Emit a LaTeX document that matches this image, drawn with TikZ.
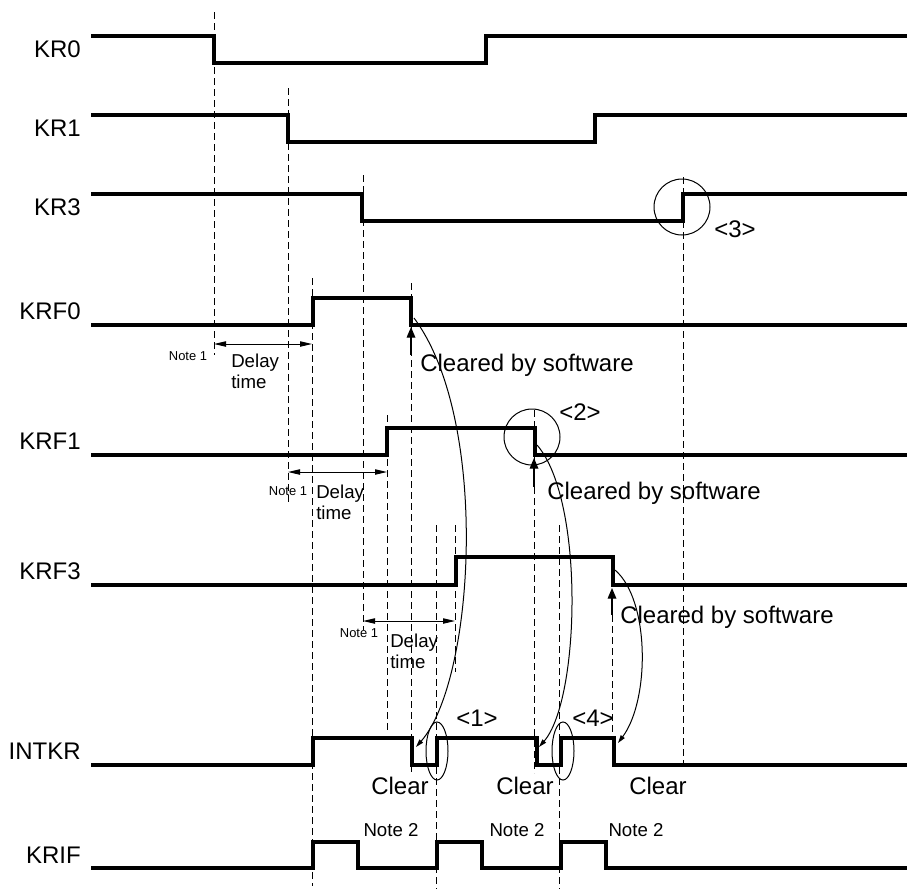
\documentclass[tikz,border=0pt]{standalone}
\usepackage{fontspec}
\setmainfont{Liberation Sans}
\usetikzlibrary{arrows.meta}
\tikzset{
    wave/.style={line width=3pt, line join=miter},
    guide/.style={line width=0.75pt, dash pattern=on 5.25pt off 3pt},
    siglabel/.style={anchor=east, inner sep=0pt, font=\fontsize{18}{20}\selectfont},
    bigtext/.style={inner sep=0pt, font=\fontsize{18}{20}\selectfont},
    midtext/.style={inner sep=0pt, align=left, font=\fontsize{14}{16}\selectfont},
    smalltext/.style={inner sep=0pt, font=\fontsize{9.7}{11}\selectfont},
    ring/.style={draw, line width=0.75pt},
    delayarrow/.style={{Triangle[length=9pt,width=4pt]}-{Triangle[length=9pt,width=4pt]}, line width=0.75pt},
    swarrow/.style={-{Triangle[length=8pt,width=6.5pt]}, line width=0.9pt},
    bendarrow/.style={-{Triangle[length=6pt,width=3.5pt]}, line width=0.75pt}
}

\begin{document}
\begin{tikzpicture}[x=0.75pt, y=-0.75pt]
    \useasboundingbox (0,0) rectangle (907,889);

    % signal names
    \node[siglabel] (lkr0) at (81,49.5) {KR0};
    \node[siglabel] (lkr1) at (81,128.5) {KR1};
    \node[siglabel] (lkr3) at (81,207.5) {KR3};
    \node[siglabel] (lkrf0) at (81,311.5) {KRF0};
    \node[siglabel] (lkrf1) at (81,441.5) {KRF1};
    \node[siglabel] (lkrf3) at (81,571) {KRF3};
    \node[siglabel] (lintkr) at (81,751.5) {INTKR};
    \node[siglabel] (lkrif) at (81,855) {KRIF};

    % guide lines
    \foreach \gx/\gtop/\gbot in {214/12/355, 288/88/505, 363/175/630, 683/177/770,
                                 312/278/886, 411/283/772, 387/415/733, 534/410/773,
                                 436/525/889, 559/525/889, 455/525/672, 612/615/738}
        \draw[guide] (\gx,\gtop) -- (\gx,\gbot);

    % waveforms
    \draw[wave] (91,36) -- (214,36) -- (214,63) -- (486,63) -- (486,36) -- (907,36);
    \draw[wave] (91,115) -- (288,115) -- (288,142) -- (595,142) -- (595,115) -- (907,115);
    \draw[wave] (91,194) -- (362,194) -- (362,221) -- (683,221) -- (683,194) -- (907,194);
    \draw[wave] (91,325) -- (313,325) -- (313,298) -- (411,298) -- (411,325) -- (907,325);
    \draw[wave] (91,455) -- (387,455) -- (387,428) -- (535,428) -- (535,455) -- (907,455);
    \draw[wave] (91,585) -- (456,585) -- (456,557) -- (613,557) -- (613,585) -- (907,585);
    \draw[wave] (91,765) -- (313,765) -- (313,738) -- (412,738) -- (412,765) -- (437,765)
        -- (437,738) -- (537,738) -- (537,765) -- (561,765) -- (561,738) -- (614,738)
        -- (614,765) -- (907,765);
    \draw[wave] (91,868) -- (313,868) -- (313,842) -- (358,842) -- (358,868) -- (437,868)
        -- (437,842) -- (482,842) -- (482,868) -- (561,868) -- (561,842) -- (606,842)
        -- (606,868) -- (907,868);

    % delay times
    \coordinate (d0a) at (214,344);
    \coordinate (d0b) at (312,344);
    \coordinate (d1a) at (288,472);
    \coordinate (d1b) at (387,472);
    \coordinate (d3a) at (363,621);
    \coordinate (d3b) at (455,621);
    \draw[delayarrow] (d0a) -- (d0b);
    \draw[delayarrow] (d1a) -- (d1b);
    \draw[delayarrow] (d3a) -- (d3b);
    \node[smalltext] (n10) at (188,356) {Note 1};
    \node[smalltext] (n11) at (288,491) {Note 1};
    \node[smalltext] (n13) at (359,633) {Note 1};
    \node[midtext, anchor=west] (dt0) at (231,371) {Delay\\time};
    \node[midtext, anchor=west] (dt1) at (316,502) {Delay\\time};
    \node[midtext, anchor=west] (dt3) at (390,651) {Delay\\time};

    % cleared by software
    \coordinate (cs0) at (411,355);
    \coordinate (cf0) at (411,327);
    \coordinate (cs1) at (534,487);
    \coordinate (cf1) at (534,458);
    \coordinate (cs3) at (612,615);
    \coordinate (cf3) at (612,588);
    \draw[swarrow] (cs0) -- (cf0);
    \draw[swarrow] (cs1) -- (cf1);
    \draw[swarrow] (cs3) -- (cf3);
    \node[bigtext, anchor=west] (cbs0) at (420,365) {Cleared by software};
    \node[bigtext, anchor=west] (cbs1) at (547,493) {Cleared by software};
    \node[bigtext, anchor=west] (cbs3) at (620,617) {Cleared by software};

    % flag clear -> interrupt clear
    \coordinate (fk0) at (414,318);
    \coordinate (fk1) at (537,445);
    \coordinate (fk3) at (615,570);
    \coordinate (ik0) at (416,747);
    \coordinate (ik1) at (539,747);
    \coordinate (ik3) at (618,743);
    \draw[bendarrow] (fk0) .. controls (490,420) and (475,680) .. (ik0);
    \draw[bendarrow] (fk1) .. controls (585,500) and (580,700) .. (ik1);
    \draw[bendarrow] (fk3) .. controls (650,600) and (650,700) .. (ik3);

    % marks
    \draw[ring] (682,207) circle[radius=28];
    \draw[ring] (532,437) circle[radius=28];
    \draw[ring] (437,751) ellipse[x radius=11, y radius=29];
    \draw[ring] (563,751) ellipse[x radius=11, y radius=29];
    \node[bigtext] (m1) at (477,718) {<1>};
    \node[bigtext] (m2) at (580,412) {<2>};
    \node[bigtext] (m3) at (735,229) {<3>};
    \node[bigtext] (m4) at (593,718) {<4>};

    \node[bigtext] (clr0) at (400,786) {Clear};
    \node[bigtext] (clr1) at (525,786) {Clear};
    \node[bigtext] (clr3) at (658,786) {Clear};
    \node[midtext] (n20) at (391,830) {Note 2};
    \node[midtext] (n21) at (517,830) {Note 2};
    \node[midtext] (n23) at (636,830) {Note 2};
\end{tikzpicture}
\end{document}
